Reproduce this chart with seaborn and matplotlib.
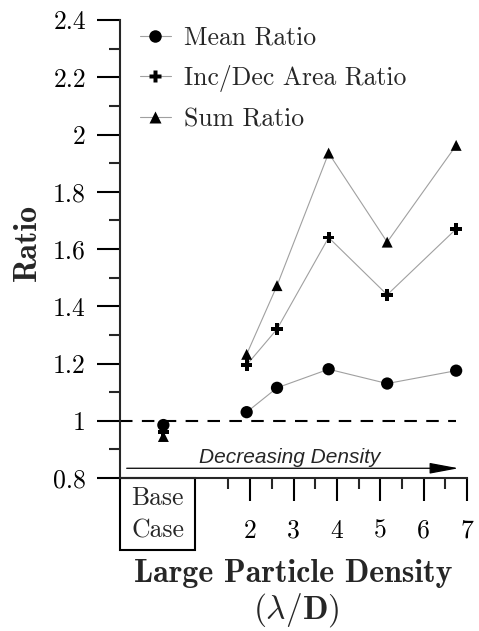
import matplotlib
matplotlib.use("Agg")
import matplotlib.pyplot as plt
import matplotlib.ticker as mticker
from matplotlib.lines import Line2D
from matplotlib.patches import Rectangle
import seaborn as sns
import pandas as pd

# density values (lambda/D) for the cases
density = [1.92, 2.62, 3.81, 5.16, 6.75]
mean_ratio = [1.03, 1.115, 1.18, 1.13, 1.175]
incdec_ratio = [1.195, 1.32, 1.64, 1.44, 1.67]
sum_ratio = [1.232, 1.472, 1.935, 1.624, 1.962]

# base case, drawn at x = 0 inside the "Base Case" column
base_x = [0]
base_mean = [0.985]
base_incdec = [0.962]
base_sum = [0.945]

x_ticks = [2, 3, 4, 5, 6, 7]
y_ticks = [0.8, 1.0, 1.2, 1.4, 1.6, 1.8, 2.0, 2.2, 2.4]

sns.set_style("ticks")
plt.rcParams["font.family"] = ["cmr10", "DejaVu Serif"]
plt.rcParams["mathtext.fontset"] = "cm"
plt.rcParams["axes.formatter.use_mathtext"] = True

df = pd.DataFrame({"density": density, "Mean Ratio": mean_ratio,
                   "Inc/Dec Area Ratio": incdec_ratio, "Sum Ratio": sum_ratio})
base = pd.DataFrame({"density": base_x, "Mean Ratio": base_mean,
                     "Inc/Dec Area Ratio": base_incdec, "Sum Ratio": base_sum})

markers = {"Mean Ratio": "o", "Inc/Dec Area Ratio": "P", "Sum Ratio": "^"}
msize = {"Mean Ratio": 78, "Inc/Dec Area Ratio": 70, "Sum Ratio": 62}

fig = plt.figure(figsize=(4.79, 6.31), dpi=100)
ax = fig.add_axes([120 / 479, 1 - 478 / 631, 347 / 479, 458 / 631])

ax.hlines(1.0, -1, 6.75, colors="black", linestyles=(0, (6, 4.5)), lw=1.5, zorder=1)

for col in ["Sum Ratio", "Inc/Dec Area Ratio", "Mean Ratio"]:
    sns.lineplot(data=df, x="density", y=col, ax=ax, color="#a0a0a0", lw=0.8,
                 zorder=2, legend=False)
    sns.scatterplot(data=df, x="density", y=col, ax=ax, marker=markers[col],
                    s=msize[col], color="black", edgecolor="none", zorder=3, legend=False)
    sns.scatterplot(data=base, x="density", y=col, ax=ax, marker=markers[col],
                    s=msize[col], color="black", edgecolor="none", zorder=3, legend=False)

ax.set_xlim(-1, 7)
ax.set_ylim(0.8, 2.4)
ax.set_xticks(x_ticks)
ax.set_xticks([1.5, 2.5, 3.5, 4.5, 5.5, 6.5], minor=True)
ax.set_yticks(y_ticks)
ax.set_yticks([0.9, 1.1, 1.3, 1.5, 1.7, 1.9, 2.1, 2.3], minor=True)
fmt = mticker.FuncFormatter(lambda v, p: "%g" % v)
ax.xaxis.set_major_formatter(fmt)
ax.yaxis.set_major_formatter(fmt)

sns.despine(ax=ax)
for s in ["left", "bottom"]:
    ax.spines[s].set_linewidth(1.5)
ax.tick_params(axis="both", which="major", direction="out", length=16.5, width=1.5,
               labelsize=18.5, colors="black")
ax.tick_params(axis="both", which="minor", direction="out", length=8, width=1.5)
ax.tick_params(axis="y", which="major", pad=8)
ax.tick_params(axis="x", which="major", pad=13)

ax.set_xlabel("")
ax.set_ylabel("")
fig.text(27 / 479, 1 - 243 / 631, "Ratio", fontfamily="cmb10", fontsize=23,
         rotation=90, ha="center", va="center")

# base case box below the axis
box = Rectangle((-1, 0), 1.73, -0.157, transform=ax.get_xaxis_transform(),
                fill=False, lw=1.5, edgecolor="black", clip_on=False)
ax.add_patch(box)
ax.text(-0.135, -0.045, "Base", transform=ax.get_xaxis_transform(), ha="center",
        va="center", fontsize=18.5)
ax.text(-0.135, -0.115, "Case", transform=ax.get_xaxis_transform(), ha="center",
        va="center", fontsize=18.5)

fig.text(293 / 479, 1 - 573 / 631, "Large Particle Density", fontfamily="cmb10",
         fontsize=23, ha="center", va="center")
fig.text(296 / 479, 1 - 610 / 631, r"$\mathbf{(}\lambda/\mathbf{D)}$",
         fontsize=24, ha="center", va="center")

# decreasing density arrow
ax.annotate("", xy=(6.87, 0.834), xytext=(-0.91, 0.834),
            arrowprops=dict(arrowstyle="-|>,head_length=1.5,head_width=0.28",
                            color="black", lw=0.9, mutation_scale=12))
ax.text(2.91, 0.872, "Decreasing Density", fontfamily="Liberation Sans",
        style="italic", fontsize=15, ha="center", va="center")

handles = [Line2D([], [], color="#a0a0a0", lw=0.8, marker=markers[c], markersize=9 if c != "Sum Ratio" else 8,
                  markerfacecolor="black", markeredgecolor="none", label=c)
           for c in ["Mean Ratio", "Inc/Dec Area Ratio", "Sum Ratio"]]
ax.legend(handles=handles, loc="upper left", bbox_to_anchor=(140 / 479, 1 - 26 / 631),
          bbox_transform=fig.transFigure, frameon=False, fontsize=18.5, handlelength=1.2,
          handletextpad=0.5, labelspacing=0.6, borderpad=0, borderaxespad=0)

fig.savefig("out.png", dpi=100)
